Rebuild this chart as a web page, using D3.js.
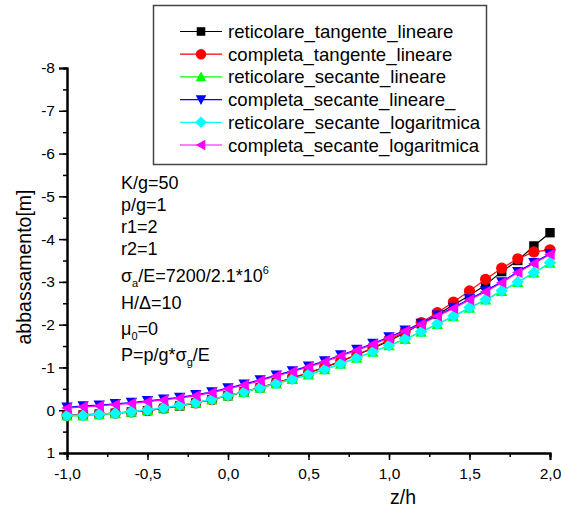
<!DOCTYPE html>
<html>
<head>
<meta charset="utf-8">
<script src="https://cdn.jsdelivr.net/npm/d3@7"></script>
<style>
  body { margin: 0; background: #fff; }
  svg { font-family: "Liberation Sans", Arial, sans-serif; }
</style>
</head>
<body>
<div id="container"></div>
<script>
/* CONSTANTS AND GLOBALS */
const width = 561,
  height = 508,
  margin = { top: 68, bottom: 55, left: 67, right: 11 };

// x values (z/h)
const zh = [-1.0, -0.9, -0.8, -0.7, -0.6, -0.5, -0.4, -0.3, -0.2, -0.1,
  0.0, 0.1, 0.2, 0.3, 0.4, 0.5, 0.6, 0.7, 0.8, 0.9,
  1.0, 1.1, 1.2, 1.3, 1.4, 1.5, 1.6, 1.7, 1.8, 1.9, 2.0];

// abbassamento [m] for each series
const retTanLin = [0.12, 0.11, 0.09, 0.07, 0.04, 0.01, -0.04, -0.10, -0.17, -0.25,
  -0.34, -0.43, -0.53, -0.64, -0.75, -0.87, -1.00, -1.14, -1.29, -1.45,
  -1.62, -1.81, -2.02, -2.24, -2.46, -2.68, -2.93, -3.24, -3.50, -3.84, -4.15];
const comTanLin = [0.12, 0.11, 0.09, 0.07, 0.04, 0.01, -0.05, -0.11, -0.17, -0.25,
  -0.34, -0.43, -0.53, -0.64, -0.76, -0.88, -1.01, -1.15, -1.30, -1.46,
  -1.64, -1.84, -2.05, -2.28, -2.53, -2.79, -3.06, -3.32, -3.54, -3.70, -3.75];
const retSecLin = [0.13, 0.13, 0.10, 0.08, 0.04, 0.00, -0.05, -0.11, -0.17, -0.25,
  -0.34, -0.42, -0.52, -0.62, -0.72, -0.83, -0.95, -1.08, -1.22, -1.36,
  -1.51, -1.66, -1.83, -2.01, -2.19, -2.39, -2.58, -2.78, -2.99, -3.21, -3.44];
const comSecLin = [-0.07, -0.10, -0.12, -0.15, -0.18, -0.22, -0.26, -0.30, -0.36, -0.43,
  -0.52, -0.61, -0.71, -0.82, -0.92, -1.03, -1.15, -1.29, -1.42, -1.56,
  -1.71, -1.87, -2.03, -2.22, -2.40, -2.60, -2.79, -3.00, -3.24, -3.45, -3.66];
const retSecLog = [0.12, 0.12, 0.09, 0.07, 0.03, -0.01, -0.06, -0.12, -0.18, -0.26,
  -0.35, -0.43, -0.53, -0.63, -0.73, -0.84, -0.96, -1.09, -1.23, -1.37,
  -1.52, -1.67, -1.84, -2.02, -2.20, -2.40, -2.59, -2.79, -3.00, -3.22, -3.45];
const comSecLog = [-0.05, -0.08, -0.10, -0.13, -0.16, -0.20, -0.24, -0.28, -0.34, -0.41,
  -0.50, -0.59, -0.69, -0.80, -0.90, -1.01, -1.13, -1.27, -1.40, -1.54,
  -1.69, -1.85, -2.01, -2.20, -2.38, -2.58, -2.77, -2.98, -3.22, -3.43, -3.64];

const seriesNames = ["reticolare_tangente_lineare", "completa_tangente_lineare",
  "reticolare_secante_lineare", "completa_secante_lineare_",
  "reticolare_secante_logaritmica", "completa_secante_logaritmica"];
const seriesValues = [retTanLin, comTanLin, retSecLin, comSecLin, retSecLog, comSecLog];
const seriesColors = ["#000000", "#ff0000", "#00ff00", "#0000ff", "#00ffff", "#ff00ff"];
const seriesShapes = ["square", "circle", "up", "down", "diamond", "left"];

const xTicks = [-1.0, -0.5, 0.0, 0.5, 1.0, 1.5, 2.0];
const yTicks = [-8, -7, -6, -5, -4, -3, -2, -1, 0, 1];

// annotation lines, split in parts: normal / sub / sup
const notes = [
  [["K/g=50", ""]],
  [["p/g=1", ""]],
  [["r1=2", ""]],
  [["r2=1", ""]],
  [["σ", ""], ["a", "sub"], ["/E=7200/2.1*10", ""], ["6", "sup"]],
  [["H/Δ=10", ""]],
  [["μ", ""], ["0", "sub"], ["=0", ""]],
  [["P=p/g*σ", ""], ["g", "sub"], ["/E", ""]]
];

const svg = d3.select("#container")
  .append("svg")
  .attr("width", width)
  .attr("height", height);

// SCALES
const x = d3.scaleLinear().domain([-1, 2]).range([margin.left, width - margin.right]);
const y = d3.scaleLinear().domain([-8, 1]).range([margin.top, height - margin.bottom]);

const fmt = d => d3.format(".1f")(d).replace(".", ",").replace("−", "-");

// AXES
const xAxis = svg.append("g")
  .attr("transform", `translate(0,${y(1)})`)
  .call(d3.axisBottom(x).tickValues(d3.range(-1, 2.01, 0.25)).tickSize(4).tickFormat(""));
xAxis.append("g").call(d3.axisBottom(x).tickValues(xTicks).tickSize(7).tickPadding(8).tickFormat(fmt));

const yAxis = svg.append("g")
  .attr("transform", `translate(${x(-1)},0)`)
  .call(d3.axisLeft(y).tickValues(d3.range(-8, 1.01, 0.5)).tickSize(4).tickFormat(""));
yAxis.append("g").call(d3.axisLeft(y).tickValues(yTicks).tickSize(8).tickPadding(4).tickFormat(d => String(d)));

svg.selectAll(".domain").attr("stroke", "#000").attr("stroke-width", 2);
svg.selectAll(".tick line").attr("stroke", "#000").attr("stroke-width", 1.5);
svg.selectAll(".tick text").attr("fill", "#000").style("font-size", "15.5px")
  .style("font-family", "'Liberation Sans', Arial, sans-serif");

// AXIS TITLES
svg.append("text")
  .attr("transform", `translate(31,267) rotate(-90)`)
  .attr("text-anchor", "middle")
  .style("font-size", "19.5px")
  .text("abbassamento[m]");
svg.append("text")
  .attr("x", 403).attr("y", 504)
  .attr("text-anchor", "middle")
  .style("font-size", "19.5px")
  .text("z/h");

// MARKERS
function markerPath(shape, s) {
  if (shape === "square") return `M${-s},${-s}H${s}V${s}H${-s}Z`;
  if (shape === "circle") return d3.symbol(d3.symbolCircle, Math.PI * (s + 0.9) * (s + 0.9))();
  if (shape === "up") return `M0,${-s - 1}L${s + 1},${s}L${-s - 1},${s}Z`;
  if (shape === "down") return `M0,${s + 1}L${s + 1},${-s}L${-s - 1},${-s}Z`;
  if (shape === "left") return `M${-s - 1},0L${s},${-s - 1}L${s},${s + 1}Z`;
  if (shape === "diamond") return `M0,${-s - 1.5}L${s + 1.5},0L0,${s + 1.5}L${-s - 1.5},0Z`;
}

const line = d3.line().x(d => x(d[0])).y(d => y(d[1]));

seriesValues.forEach((vals, i) => {
  const pts = zh.map((z, j) => [z, vals[j]]);
  const g = svg.append("g");
  g.append("path")
    .attr("d", line(pts))
    .attr("fill", "none")
    .attr("stroke", seriesColors[i])
    .attr("stroke-width", 1.2);
  g.selectAll("path.mk")
    .data(pts)
    .enter()
    .append("path")
    .attr("class", "mk")
    .attr("transform", d => `translate(${x(d[0])},${y(d[1])})`)
    .attr("d", markerPath(seriesShapes[i], 4.7))
    .attr("fill", seriesColors[i]);
});

// LEGEND
const legend = svg.append("g");
legend.append("rect")
  .attr("x", 153.5).attr("y", 5.5)
  .attr("width", 333).attr("height", 159)
  .attr("fill", "#fff")
  .attr("stroke", "#444")
  .attr("stroke-width", 1.5);
seriesNames.forEach((name, i) => {
  const ly = 31.5 + i * 22.7;
  legend.append("line")
    .attr("x1", 180).attr("x2", 222)
    .attr("y1", ly).attr("y2", ly)
    .attr("stroke", seriesColors[i]).attr("stroke-width", 1.2);
  legend.append("path")
    .attr("transform", `translate(201,${ly})`)
    .attr("d", markerPath(seriesShapes[i], 4.3))
    .attr("fill", seriesColors[i]);
  legend.append("text")
    .attr("x", 228).attr("y", ly + 6.5)
    .style("font-size", "18.6px")
    .text(name);
});

// ANNOTATION
const noteY = [189, 211, 233, 255, 282, 309, 335, 361];
notes.forEach((parts, i) => {
  const t = svg.append("text")
    .attr("x", 121).attr("y", noteY[i])
    .style("font-size", "18px");
  let shift = 0;
  parts.forEach(([txt, kind]) => {
    const ts = t.append("tspan").text(txt);
    let target = 0;
    if (kind === "sub") { ts.style("font-size", "11px"); target = 5; }
    if (kind === "sup") { ts.style("font-size", "11px"); target = -8; }
    if (target !== shift) ts.attr("dy", target - shift);
    shift = target;
  });
});
</script>
</body>
</html>
